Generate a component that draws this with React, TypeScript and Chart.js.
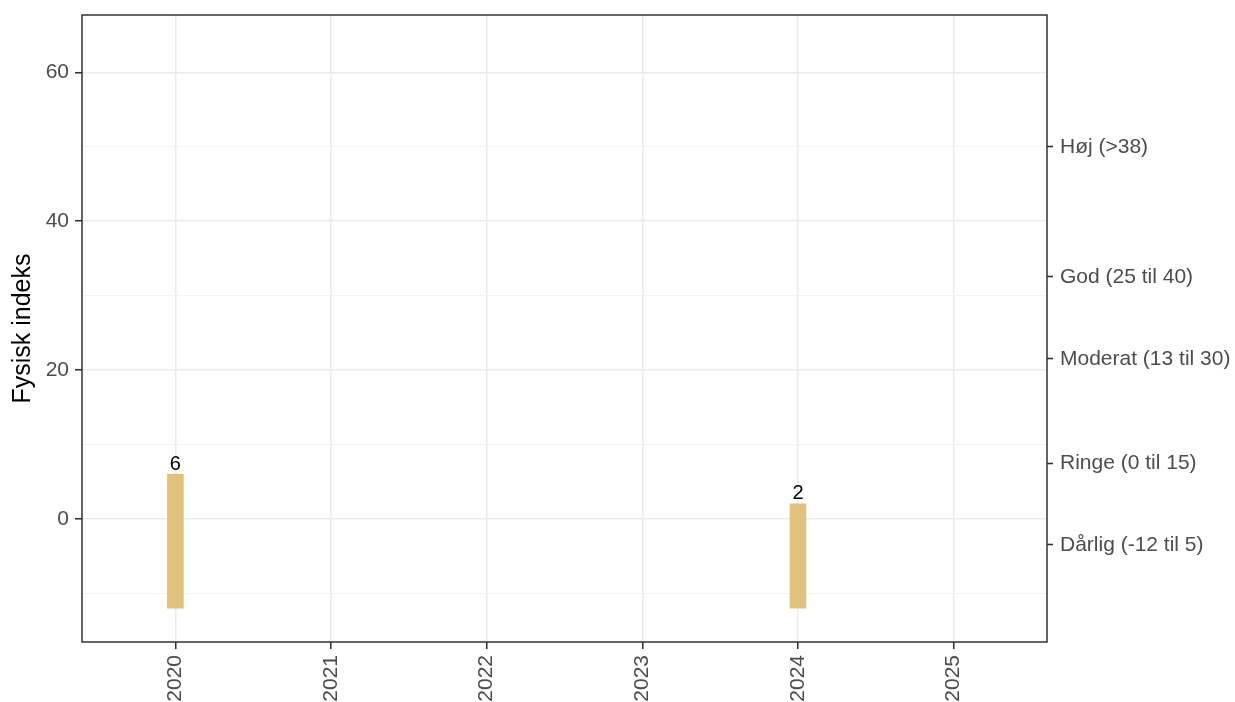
import React, { useEffect, useRef } from 'react';
import { Chart, registerables } from 'chart.js';

Chart.register(...registerables);

const years = [2020, 2021, 2022, 2023, 2024, 2025];
const barYears = [2020, 2024];
const barStart = [-12, -12];
const barEnd = [6, 2];
const barLabels = ['6', '2'];
const yMajorStep = 20;
const yMinorStep = 10;
const yMin = -16.55;
const yMax = 67.7;
const classValues = [50, 32.5, 21.5, 7.5, -3.5];
const classLabels = ['Høj (>38)', 'God (25 til 40)', 'Moderat (13 til 30)', 'Ringe (0 til 15)', 'Dårlig (-12 til 5)'];
const yTitle = 'Fysisk indeks';

const FONT = '"Liberation Sans", Arial, Helvetica, sans-serif';
const TICK_COLOR = '#4d4d4d';
const AXIS_COLOR = '#333333';
const GRID_MAJOR = '#ebebeb';
const GRID_MINOR = '#f3f3f3';
const BAR_COLOR = '#dfc27d';

const zeroPad = (s: any) => {
  s.paddingTop = 0;
  s.paddingBottom = 0;
  s.paddingLeft = 0;
  s.paddingRight = 0;
};

const panelBorder = {
  id: 'panelBorder',
  afterDatasetsDraw(chart: any) {
    const { ctx, chartArea } = chart;
    ctx.save();
    ctx.strokeStyle = AXIS_COLOR;
    ctx.lineWidth = 1.5;
    ctx.strokeRect(chartArea.left, chartArea.top, chartArea.right - chartArea.left, chartArea.bottom - chartArea.top);
    ctx.restore();
  },
};

const barText = {
  id: 'barText',
  afterDatasetsDraw(chart: any) {
    const { ctx } = chart;
    const meta = chart.getDatasetMeta(0);
    ctx.save();
    ctx.font = `20px ${FONT}`;
    ctx.fillStyle = '#000000';
    ctx.textAlign = 'center';
    ctx.textBaseline = 'bottom';
    meta.data.forEach((el: any, i: number) => {
      const top = Math.min(el.y, el.base);
      ctx.fillText(barLabels[i], el.x, top);
    });
    ctx.restore();
  },
};

export default function App() {
  const ref = useRef<HTMLCanvasElement>(null);

  useEffect(() => {
    if (!ref.current) return;
    Chart.defaults.font.family = FONT;
    const chart = new Chart(ref.current, {
      type: 'bar',
      data: {
        datasets: [
          {
            data: barYears.map((x, i) => ({ x, y: [barStart[i], barEnd[i]] })) as any,
            backgroundColor: BAR_COLOR,
            borderWidth: 0,
            barThickness: 16,
            xAxisID: 'x',
            yAxisID: 'y',
          },
        ],
      },
      options: {
        animation: false,
        responsive: false,
        maintainAspectRatio: false,
        devicePixelRatio: 1,
        layout: { padding: { top: 15, left: 0, right: 0, bottom: 0 } },
        plugins: {
          legend: { display: false },
          tooltip: { enabled: false },
          title: { display: false },
        },
        scales: {
          x: {
            type: 'linear',
            position: 'bottom',
            offset: false,
            min: years[0] - 0.6,
            max: years[years.length - 1] + 0.6,
            afterBuildTicks: (s: any) => {
              s.ticks = years.map((v) => ({ value: v }));
            },
            afterFit: (s: any) => {
              s.height = 60;
              zeroPad(s);
            },
            border: { display: false },
            grid: {
              offset: false,
              color: GRID_MAJOR,
              lineWidth: 1.5,
              drawTicks: true,
              tickLength: 7,
              tickColor: AXIS_COLOR,
              tickWidth: 1.6,
            },
            ticks: {
              autoSkip: false,
              maxRotation: 90,
              minRotation: 90,
              padding: 6,
              color: TICK_COLOR,
              font: { size: 21 },
              callback: (v: any) => String(v),
            },
          },
          y: {
            type: 'linear',
            position: 'left',
            min: yMin,
            max: yMax,
            afterFit: (s: any) => {
              s.width = 82;
              zeroPad(s);
            },
            border: { display: false },
            title: {
              display: true,
              text: yTitle,
              color: '#000000',
              font: { size: 25 },
              padding: { top: 8, bottom: 0 },
            },
            grid: {
              color: (c: any) => (c.tick && c.tick.value % yMajorStep === 0 ? GRID_MAJOR : GRID_MINOR),
              lineWidth: (c: any) => (c.tick && c.tick.value % yMajorStep === 0 ? 1.5 : 1),
              drawTicks: true,
              tickLength: 7,
              tickColor: (c: any) => (c.tick && c.tick.value % yMajorStep === 0 ? AXIS_COLOR : 'rgba(0,0,0,0)'),
              tickWidth: 1.6,
            },
            ticks: {
              stepSize: yMinorStep,
              includeBounds: false,
              autoSkip: false,
              padding: 6,
              color: TICK_COLOR,
              font: { size: 21 },
              callback: (v: any) => (v % yMajorStep === 0 ? String(v) : ''),
            },
          },
          y2: {
            type: 'linear',
            position: 'right',
            min: yMin,
            max: yMax,
            afterBuildTicks: (s: any) => {
              s.ticks = classValues.map((v) => ({ value: v }));
            },
            afterFit: (s: any) => {
              s.width = 188;
              zeroPad(s);
            },
            border: { display: false },
            grid: {
              drawOnChartArea: false,
              drawTicks: true,
              tickLength: 6,
              tickColor: AXIS_COLOR,
              tickWidth: 1.6,
            },
            ticks: {
              autoSkip: false,
              padding: 7,
              color: TICK_COLOR,
              font: { size: 21 },
              callback: (_v: any, i: number) => classLabels[i],
            },
          },
        },
      },
      plugins: [panelBorder, barText],
    } as any);
    return () => chart.destroy();
  }, []);

  return (
    <div style={{ position: 'fixed', left: 0, top: 0, width: 1235, height: 702, background: '#ffffff' }}>
      <canvas ref={ref} width={1235} height={702} style={{ display: 'block' }} />
    </div>
  );
}
